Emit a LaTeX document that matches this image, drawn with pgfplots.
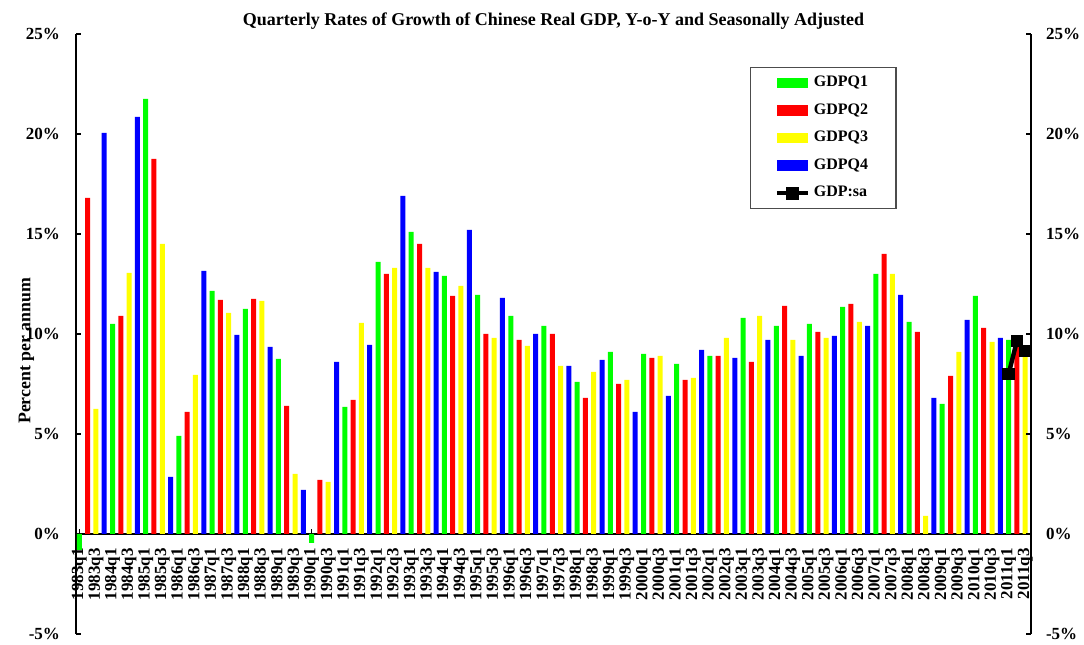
\documentclass[border=0pt]{standalone}
\usepackage{fontspec}
\setmainfont{Liberation Serif}
\usepackage{pgfplots}
\usepackage{pgfplotstable}
\pgfplotsset{compat=1.18}
\usetikzlibrary{calc}

\definecolor{qone}{RGB}{0,255,0}
\definecolor{qtwo}{RGB}{255,0,0}
\definecolor{qthree}{RGB}{255,255,0}
\definecolor{qfour}{RGB}{0,0,255}

% index = 4*(year-1983) + (quarter-1)
\pgfplotstableread{
x y
0 -0.8
4 10.5
8 21.75
12 4.9
16 12.15
20 11.25
24 8.75
28 -0.45
32 6.35
36 13.6
40 15.1
44 12.9
48 11.95
52 10.9
56 10.4
60 7.6
64 9.1
68 9.0
72 8.5
76 8.9
80 10.8
84 10.4
88 10.5
92 11.35
96 13.0
100 10.6
104 6.5
108 11.9
112 9.7
}\gdpqone

\pgfplotstableread{
x y
1 16.8
5 10.9
9 18.75
13 6.1
17 11.7
21 11.75
25 6.4
29 2.7
33 6.7
37 13.0
41 14.5
45 11.9
49 10.0
53 9.7
57 10.0
61 6.8
65 7.5
69 8.8
73 7.7
77 8.9
81 8.6
85 11.4
89 10.1
93 11.5
97 14.0
101 10.1
105 7.9
109 10.3
113 9.5
}\gdpqtwo

\pgfplotstableread{
x y
2 6.25
6 13.05
10 14.5
14 7.95
18 11.05
22 11.65
26 3.0
30 2.6
34 10.55
38 13.3
42 13.3
46 12.4
50 9.8
54 9.4
58 8.4
62 8.1
66 7.7
70 8.9
74 7.8
78 9.8
82 10.9
86 9.7
90 9.8
94 10.6
98 13.0
102 0.9
106 9.1
110 9.6
114 9.2
}\gdpqthree

\pgfplotstableread{
x y
3 20.05
7 20.85
11 2.85
15 13.15
19 9.95
23 9.35
27 2.2
31 8.6
35 9.45
39 16.9
43 13.1
47 15.2
51 11.8
55 10.0
59 8.4
63 8.7
67 6.1
71 6.9
75 9.2
79 8.8
83 9.7
87 8.9
91 9.9
95 10.4
99 11.95
103 6.8
107 10.7
111 9.8
}\gdpqfour

\pgfplotstableread{
x y
112 8.0
113 9.65
114 9.15
}\gdpsa

\pgfplotsset{
  barleg/.style={legend image code/.code={\fill[##1] (0pt,-2.6pt) rectangle (15.5pt,2.6pt);}},
  linleg/.style={legend image code/.code={\draw[black, line width=2pt] (0pt,0pt) -- (15.5pt,0pt);
    \fill[black] (5.5pt,-2.2pt) rectangle (10pt,2.2pt);}},
  tlfont/.style={font=\bfseries\fontsize{8.5}{10}\selectfont},
}

\begin{document}
\begin{tikzpicture}
\begin{axis}[
  name=main, at={(0,0)}, anchor=south west,
  scale only axis, width=477.5pt, height=300pt,
  xmin=-0.4, xmax=114.7, ymin=-5, ymax=25,
  axis x line=middle, axis y line=left,
  axis line style={-, black, line width=0.6pt},
  hide obscured x ticks=false, hide obscured y ticks=false,
  tick align=inside, major tick length=2.5pt, minor tick length=2pt,
  ytick={-5,0,5,10,15,20,25},
  yticklabels={-5\%,0\%,5\%,10\%,15\%,20\%,25\%},
  yticklabel style={tlfont, xshift=-4.5pt},
  xtick={0,2,...,114}, minor xtick={1,3,...,113},
  xticklabels={1983q1,1983q3,1984q1,1984q3,1985q1,1985q3,1986q1,1986q3,1987q1,1987q3,
    1988q1,1988q3,1989q1,1989q3,1990q1,1990q3,1991q1,1991q3,1992q1,1992q3,
    1993q1,1993q3,1994q1,1994q3,1995q1,1995q3,1996q1,1996q3,1997q1,1997q3,
    1998q1,1998q3,1999q1,1999q3,2000q1,2000q3,2001q1,2001q3,2002q1,2002q3,
    2003q1,2003q3,2004q1,2004q3,2005q1,2005q3,2006q1,2006q3,2007q1,2007q3,
    2008q1,2008q3,2009q1,2009q3,2010q1,2010q3,2011q1,2011q3},
  xticklabel style={tlfont, yshift=-5.5pt, rotate=90, anchor=east, inner sep=1.5pt},
  major x tick style={black, line width=0.5pt},
  minor x tick style={gray, line width=0.5pt},
  major y tick style={black, line width=0.6pt},
  title={Quarterly Rates of Growth of Chinese Real GDP, Y-o-Y and Seasonally Adjusted},
  title style={at={(axis description cs:0.5,1)}, anchor=south, inner sep=0pt, yshift=-4pt,
    font=\bfseries\fontsize{9}{10.8}\selectfont},
  every axis y label/.style={at={(axis description cs:-0.052,0.472)}, rotate=90, anchor=center,
    font=\bfseries\fontsize{8.9}{10.5}\selectfont},
  ylabel={Percent per annum},
  legend style={at={(axis description cs:0.706,0.945)}, anchor=north west,
    draw=black!70, line width=0.6pt, fill=white,
    font=\bfseries\fontsize{8}{9.6}\selectfont,
    inner xsep=12pt, inner ysep=2.2pt, row sep=3pt},
  legend cell align=left,
]
\addplot[ybar, bar width=2.5pt, bar shift=0pt, fill=qone, draw=none, barleg] table {\gdpqone};
\addlegendentry{GDPQ1}
\addplot[ybar, bar width=2.5pt, bar shift=0pt, fill=qtwo, draw=none, barleg] table {\gdpqtwo};
\addlegendentry{GDPQ2}
\addplot[ybar, bar width=2.5pt, bar shift=0pt, fill=qthree, draw=none, barleg] table {\gdpqthree};
\addlegendentry{GDPQ3}
\addplot[ybar, bar width=2.5pt, bar shift=0pt, fill=qfour, draw=none, barleg] table {\gdpqfour};
\addlegendentry{GDPQ4}
\addplot[draw=black, line width=2.2pt, mark=square*, mark size=2pt, mark options={solid, fill=black}, linleg] table {\gdpsa};
\addlegendentry{GDP:sa}
\end{axis}
\begin{axis}[
  at={(main.south west)}, anchor=south west,
  scale only axis, width=477.5pt, height=300pt,
  xmin=-0.4, xmax=114.7, ymin=-5, ymax=25,
  axis x line=none, axis y line*=right,
  axis line style={-, black, line width=0.6pt},
  tick align=inside, major tick length=2.5pt,
  ytick={-5,0,5,10,15,20,25},
  yticklabels={-5\%,0\%,5\%,10\%,15\%,20\%,25\%},
  yticklabel style={tlfont, xshift=4pt},
  major y tick style={black, line width=0.6pt},
]
\addplot[draw=none] coordinates {(0,0)};
\end{axis}
\pgfresetboundingbox
\path[use as bounding box] ($(main.south west)+(-38pt,-5pt)$) rectangle ($(main.south west)+(504pt,317pt)$);
\end{tikzpicture}
\end{document}
